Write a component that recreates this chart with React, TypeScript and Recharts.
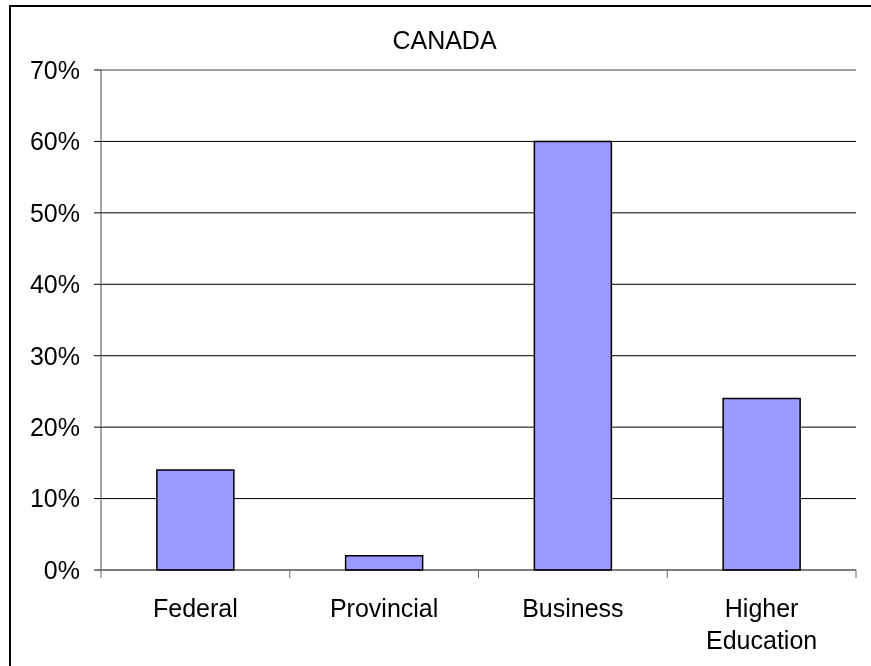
import React from 'react';
import { BarChart, Bar, XAxis, YAxis, CartesianGrid, ReferenceLine } from 'recharts';

const categories = ['Federal', 'Provincial', 'Business', 'Higher Education'];
const shares = [14, 2, 60, 24];
const yTicks = [0, 10, 20, 30, 40, 50, 60, 70];
const gridValues = [10, 20, 30, 40, 50, 60];
const title = 'CANADA';

const data = categories.map((c, i) => ({ name: c, value: shares[i] }));

const FONT = '"Liberation Sans", Arial, sans-serif';

const labelLines: Record<string, string[]> = {
  'Higher Education': ['Higher', 'Education'],
};

const XTick = (props: any) => {
  const { x, y, payload, index } = props;
  const half = payload && typeof payload.offset === 'number' ? payload.offset : 0;
  const lines = labelLines[payload.value] || [payload.value];
  return (
    <g>
      <line x1={x - half} x2={x - half} y1={y} y2={y + 8} stroke="#666" strokeWidth={1} />
      {index === categories.length - 1 && (
        <line x1={x + half} x2={x + half} y1={y} y2={y + 8} stroke="#666" strokeWidth={1} />
      )}
      <text x={x} y={y + 47} textAnchor="middle" fontFamily={FONT} fontSize={25} fill="#000">
        {lines.map((l: string, i: number) => (
          <tspan key={i} x={x} dy={i === 0 ? 0 : 32}>
            {l}
          </tspan>
        ))}
      </text>
    </g>
  );
};

export default function App() {
  return (
    <div style={{ position: 'fixed', left: 0, top: 0, width: 900, height: 700 }}>
      <div style={{ position: 'absolute', left: 9, top: 5, width: 2, height: 695, background: '#000' }} />
      <div style={{ position: 'absolute', left: 9, top: 5, width: 891, height: 2, background: '#000' }} />
      <div
        style={{
          position: 'absolute',
          left: 0,
          top: 28,
          width: 889,
          textAlign: 'center',
          fontFamily: FONT,
          fontSize: 25,
          lineHeight: 1,
          color: '#000',
        }}
      >
        {title}
      </div>
      <div style={{ position: 'absolute', left: 0, top: 0 }}>
        <BarChart
          width={871}
          height={666}
          data={data}
          margin={{ top: 70, right: 15, bottom: 0, left: 0 }}
          barCategoryGap="29.6%"
        >
          <CartesianGrid vertical={false} horizontalValues={gridValues} stroke="#000" strokeWidth={1} />
          <ReferenceLine y={70} stroke="#808080" strokeWidth={1.5} />
          <XAxis
            dataKey="name"
            height={96}
            tickSize={0}
            tickMargin={0}
            tickLine={false}
            axisLine={{ stroke: '#000', strokeWidth: 1.2 }}
            tick={<XTick />}
            interval={0}
          />
          <YAxis
            width={101}
            domain={[0, 70]}
            ticks={yTicks}
            interval={0}
            tickFormatter={(v: number) => `${v}%`}
            tickSize={7}
            tickMargin={14}
            axisLine={{ stroke: '#666', strokeWidth: 1.2 }}
            tickLine={{ stroke: '#000' }}
            tick={{ fontFamily: FONT, fontSize: 25, fill: '#000' }}
          />
          <YAxis
            yAxisId="right"
            orientation="right"
            width={0}
            tick={false}
            tickLine={false}
            axisLine={{ stroke: '#999', strokeWidth: 1.5 }}
          />
          <Bar dataKey="value" fill="#9999FF" stroke="#000" strokeWidth={1.5} isAnimationActive={false} />
        </BarChart>
      </div>
    </div>
  );
}
